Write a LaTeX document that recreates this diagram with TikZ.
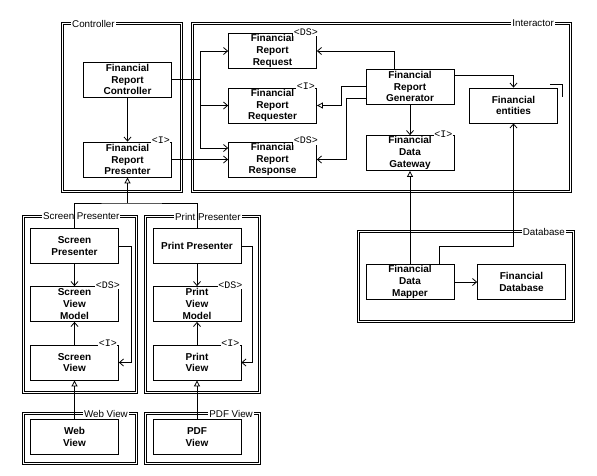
\documentclass[tikz,border=0pt]{standalone}
\usepackage{fontspec}
\setmainfont{Liberation Sans}
\setmonofont{Liberation Mono}
\usetikzlibrary{arrows.meta,positioning,calc}
\tikzset{cls/.style={draw, line width=0.8pt, minimum width=88pt, minimum height=35pt, inner sep=1pt, align=center, fill=white, font=\fontsize{10}{11.7}\selectfont\bfseries}}
\tikzset{pkg/.style={draw, line width=0.7pt, double, double distance=1.5pt}}
\tikzset{pkgname/.style={fill=white, inner sep=1pt, font=\fontsize{9.8}{11}\selectfont}}
\tikzset{stereo/.style={fill=white, inner sep=0.5pt, font=\fontsize{10}{10}\ttfamily}}
\tikzset{arr/.style={draw, ->, line width=0.8pt}}
\tikzset{tri/.style={draw, -{Triangle[open,length=6pt,width=6pt]}, line width=0.8pt}}

\begin{document}
\begin{tikzpicture}[x=1pt, y=-1pt, >={Straight Barb[length=4pt,width=7pt]}]
		\useasboundingbox (0,0) rectangle (597,475);

		% packages
		\draw[pkg] (62.5,23.5) rectangle (181.5,191.5);
		\draw[pkg] (192.5,23.5) rectangle (570.5,191.5);
		\draw[pkg] (23.5,216.5) rectangle (136.5,392.5);
		\draw[pkg] (145.5,216.5) rectangle (259.5,392.5);
		\draw[pkg] (358.5,231.5) rectangle (573.5,321.5);
		\draw[pkg] (23.5,413.5) rectangle (136.5,463.5);
		\draw[pkg] (145.5,413.5) rectangle (259.5,463.5);

		\node[pkgname, anchor=west] (Lctrl) at (71,23.5) {Controller};
		\node[pkgname, anchor=east] (Linter) at (555,23.5) {Interactor};
		\node[pkgname, anchor=west] (Lscreen) at (42,216.5) {Screen Presenter};
		\node[pkgname, anchor=west] (Lprint) at (174,216.5) {Print Presenter};
		\node[pkgname, anchor=east] (Ldb) at (566,231.5) {Database};
		\node[pkgname, anchor=east] (Lweb) at (129,413.5) {Web View};
		\node[pkgname, anchor=east] (Lpdf) at (254,413.5) {PDF View};

		% controller
		\node[cls] (FRC) at (127.5,79.5) {Financial\\Report\\Controller};
		\node[cls] (FRP) at (127.5,159.5) {Financial\\Report\\Presenter};

		% interactor
		\node[cls] (FRQ) at (272.5,51) {Financial\\Report\\Request};
		\node[cls] (FRR) at (272.5,105.5) {Financial\\Report\\Requester};
		\node[cls] (FRS) at (272.5,159.5) {Financial\\Report\\Response};
		\node[cls] (FRG) at (410,86.5) {Financial\\Report\\Generator};
		\node[cls] (FDG) at (410,153) {Financial\\Data\\Gateway};
		\node[cls] (FE) at (513.5,105.5) {Financial\\entities};
		\draw[line width=0.8pt] ([xshift=-8pt,yshift=3pt]FE.north east) -| ([xshift=4pt,yshift=-9pt]FE.north east);

		% database
		\node[cls] (FDM) at (410,282) {Financial\\Data\\Mapper};
		\node[cls] (FDB) at (521.5,282) {Financial\\Database};

		% presenters and views
		\node[cls] (SP) at (74.5,246) {Screen\\Presenter};
		\node[cls] (SVM) at (74.5,304) {Screen\\View\\Model};
		\node[cls] (SV) at (74.5,362.5) {Screen\\View};
		\node[cls] (PP) at (197,246) {Print Presenter};
		\node[cls] (PVM) at (197,304) {Print\\View\\Model};
		\node[cls] (PV) at (197,362.5) {Print\\View};
		\node[cls] (WV) at (74.5,437) {Web\\View};
		\node[cls] (PDF) at (197,437) {PDF\\View};

		% stereotypes
		\node[stereo] (sFRP) at ([xshift=-11pt,yshift=1pt]FRP.north east) {<I>};
		\node[stereo] (sFRQ) at ([xshift=-11pt,yshift=1pt]FRQ.north east) {<DS>};
		\node[stereo] (sFRR) at ([xshift=-11pt,yshift=1pt]FRR.north east) {<I>};
		\node[stereo] (sFRS) at ([xshift=-11pt,yshift=1pt]FRS.north east) {<DS>};
		\node[stereo] (sFDG) at ([xshift=-11pt,yshift=1pt]FDG.north east) {<I>};
		\node[stereo] (sSVM) at ([xshift=-11pt,yshift=1pt]SVM.north east) {<DS>};
		\node[stereo] (sSV) at ([xshift=-11pt,yshift=1pt]SV.north east) {<I>};
		\node[stereo] (sPVM) at ([xshift=-11pt,yshift=1pt]PVM.north east) {<DS>};
		\node[stereo] (sPV) at ([xshift=-11pt,yshift=1pt]PV.north east) {<I>};

		% controller side
		\draw[arr] (FRC) -- (FRP);
		\coordinate (bus) at ($(FRC.east)+(28,0)$);
		\draw[arr] (FRC.east) -- (bus) |- (FRQ.west);
		\draw[arr] (bus) |- (FRR.west);
		\draw[arr] (bus) |- ([yshift=11.5pt]FRS.west);
		\draw[arr] (FRP.east) -- (FRS.west);

		% generator
		\draw[arr] ([xshift=-16pt]FRG.north) |- (FRQ.east);
		\draw[tri] (FRG.west) -- ++(-24,0) |- (FRR.east);
		\draw[arr] ([yshift=-11.5pt]FRG.west) -- ++(-19,0) |- (FRS.east);
		\draw[arr] (FRG) -- (FDG);
		\draw[arr] ([yshift=11.5pt]FRG.east) -| (FE.north);

		% mapper
		\draw[tri] (FDM) -- (FDG);
		\draw[arr] ([xshift=29pt]FDM.north) -- ++(0,-18) -| (FE.south);
		\draw[arr] (FDM) -- (FDB);

		% presenter split
		\coordinate (split) at (127.5,203);
		\draw[tri] (split) -- (FRP.south);
		\draw[line width=0.8pt] (SP.north) |- (split) -| (PP.north);

		% screen
		\draw[arr] (SP) -- (SVM);
		\draw[arr] (SV) -- (SVM);
		\draw[arr] (SP.east) -- ++(12,0) |- (SV.east);
		\draw[tri] (WV) -- (SV);

		% print
		\draw[arr] (PP) -- (PVM);
		\draw[arr] (PV) -- (PVM);
		\draw[arr] (PP.east) -- ++(11,0) |- (PV.east);
		\draw[tri] (PDF) -- (PV);
	\end{tikzpicture}
\end{document}
